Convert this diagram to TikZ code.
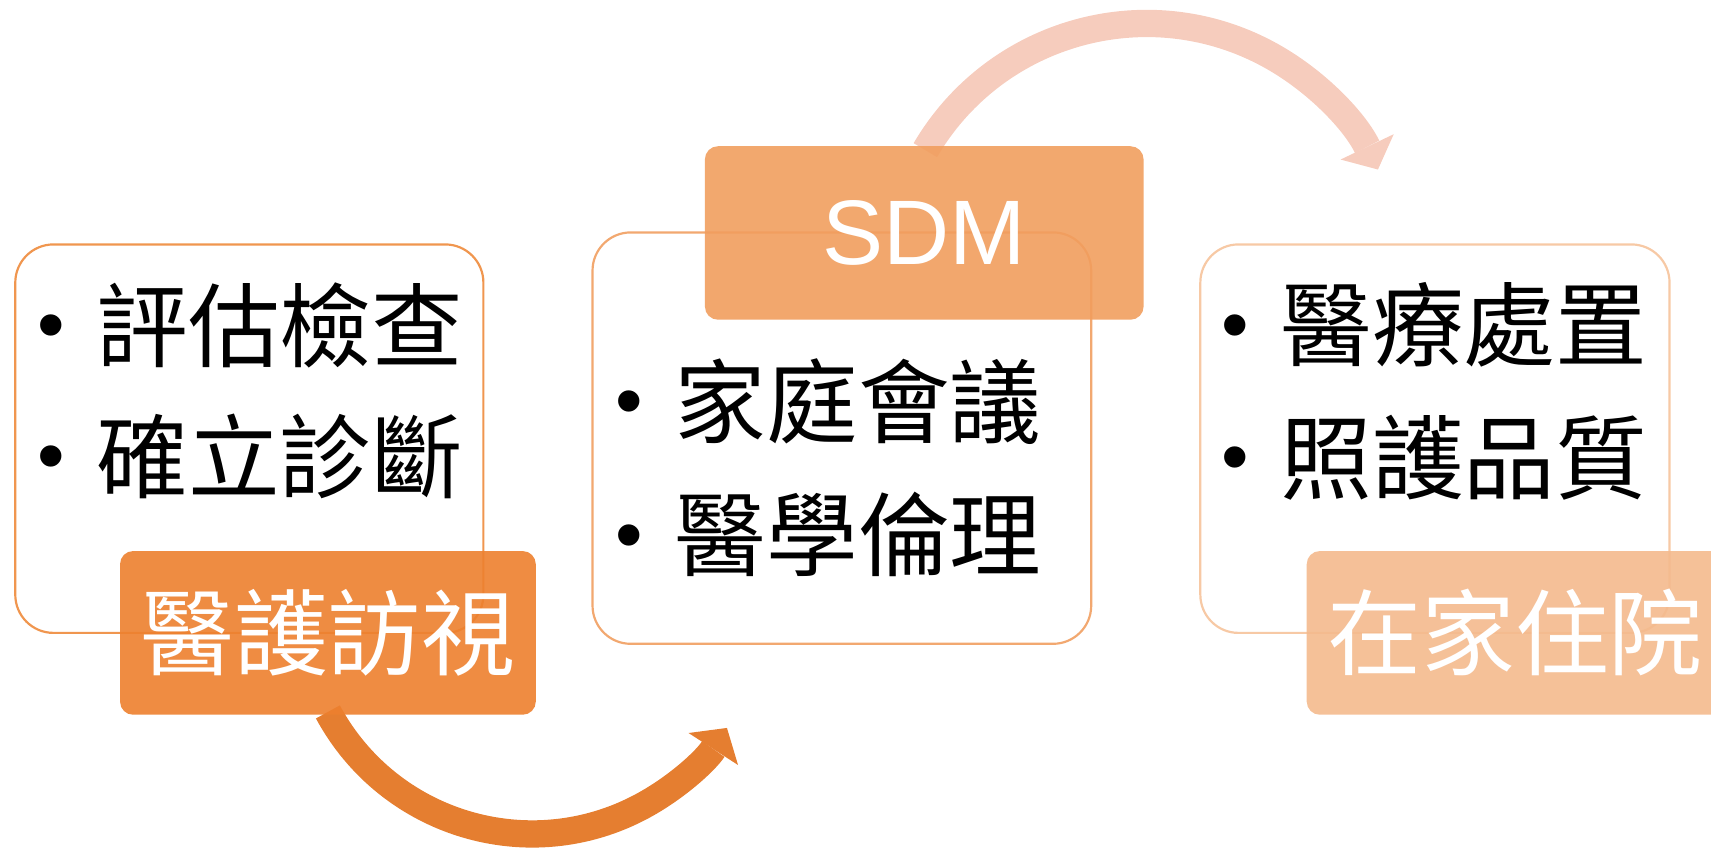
\documentclass[tikz,border=0pt]{standalone}
\usepackage{fontspec}
\setmainfont{Liberation Sans}
\newfontfamily\cjk{Noto Sans CJK TC}
\usetikzlibrary{arrows.meta,backgrounds}
\definecolor{arrowA}{HTML}{E57E30}
\definecolor{arrowB}{HTML}{F6CCBD}
\definecolor{labA}{HTML}{ED802E}
\definecolor{labB}{HTML}{F19E5E}
\definecolor{labC}{HTML}{F4BA8D}
\definecolor{lineA}{HTML}{F0964F}
\definecolor{lineB}{HTML}{F2A870}
\definecolor{lineC}{HTML}{F7C9A5}
\tikzset{
  outlinebox/.style={draw=#1, line width=1pt, rounded corners=17.5pt, fill=white, inner sep=0pt},
  labelbox/.style={fill=#1, fill opacity=0.9, text opacity=1, rounded corners=6pt, inner sep=0pt,
     text=white, font=\cjk\fontsize{43pt}{43pt}\selectfont},
  itemline/.style={anchor=west, inner sep=0pt, text=black, font=\fontsize{42pt}{42pt}\selectfont},
  bigarrow/.style={line width=12.5pt, draw=#1,
     -{Triangle[width=27pt 0, length=11.5pt 0, line width=0pt, fill=#1]}}
}
\newcommand{\bul}{\makebox[27pt][l]{\fontsize{36pt}{36pt}\selectfont\raisebox{4pt}{•}}}
\begin{document}
\begin{tikzpicture}[x=0.5pt,y=-0.5pt]
\clip (0,0) rectangle (1568,781);
% outline boxes
\node[outlinebox=lineA, minimum width=214.5pt, minimum height=178pt] (box1) at (228.5,402) {};
\node[outlinebox=lineB, minimum width=228.5pt, minimum height=188.5pt] (box2) at (771.5,401.5) {};
\node[outlinebox=lineC, minimum width=215pt, minimum height=178pt] (box3) at (1315,402) {};
% labels
\node[labelbox=labA, minimum width=190.5pt, minimum height=75pt] (lab1) at (300.5,580) {醫護訪視};
\node[labelbox=labB, minimum width=201pt, minimum height=79.5pt,
      font=\fontsize{42pt}{42pt}\selectfont] (lab2) at (847,213.5) {SDM};
\node[labelbox=labC, minimum width=191pt, minimum height=75pt] (lab3) at (1388.5,580) {在家住院};
% arrows (behind the labels)
\begin{scope}[on background layer]
\draw[bigarrow=arrowA] ([yshift=1.5pt]lab1.south) arc[start angle=151.7, end angle=32.9, radius=212.6];
\draw[bigarrow=arrowB] ([xshift=0.5pt,yshift=-2pt]lab2.north) arc[start angle=-149.6, end angle=-25.5, radius=235];
\end{scope}
% items
\node[itemline] (t11) at (34,298) {\bul{\cjk 評估檢查}};
\node[itemline] (t12) at (34,418) {\bul{\cjk 確立診斷}};
\node[itemline] (t21) at (564,368) {\bul{\cjk 家庭會議}};
\node[itemline] (t22) at (564,490) {\bul{\cjk 醫學倫理}};
\node[itemline] (t31) at (1119,298) {\bul{\cjk 醫療處置}};
\node[itemline] (t32) at (1119,419) {\bul{\cjk 照護品質}};
\end{tikzpicture}
\end{document}
